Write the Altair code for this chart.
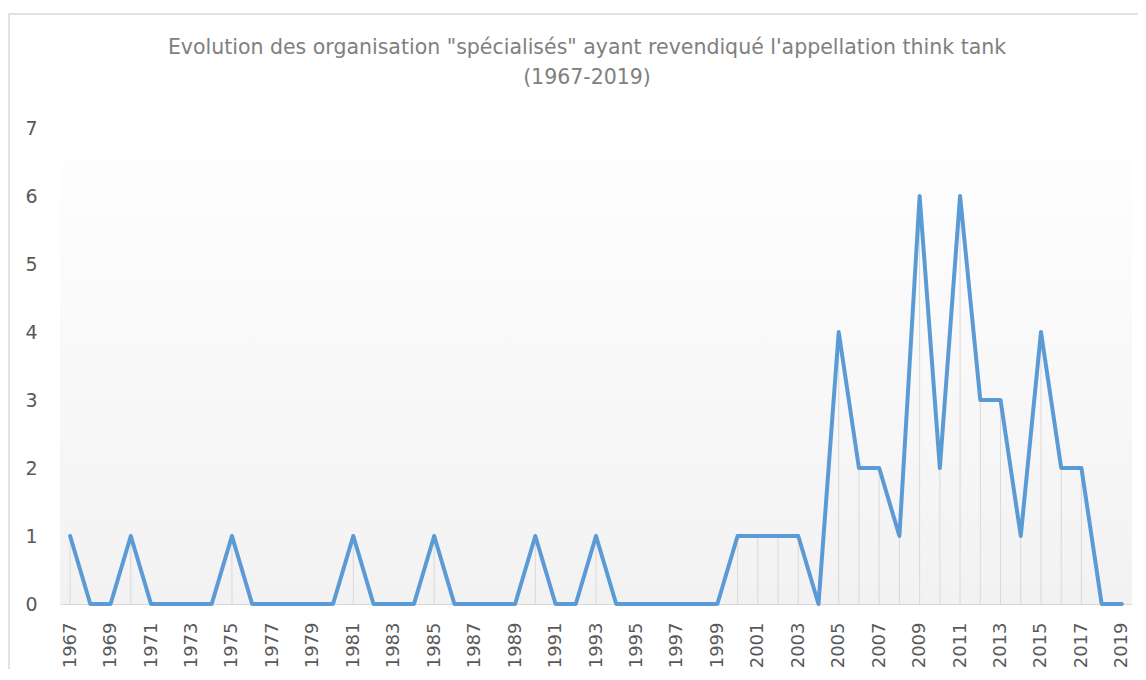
import altair as alt
import pandas as pd

years = [1967, 1968, 1969, 1970, 1971, 1972, 1973, 1974, 1975, 1976,
         1977, 1978, 1979, 1980, 1981, 1982, 1983, 1984, 1985, 1986,
         1987, 1988, 1989, 1990, 1991, 1992, 1993, 1994, 1995, 1996,
         1997, 1998, 1999, 2000, 2001, 2002, 2003, 2004, 2005, 2006,
         2007, 2008, 2009, 2010, 2011, 2012, 2013, 2014, 2015, 2016,
         2017, 2018, 2019]
counts = [1, 0, 0, 1, 0, 0, 0, 0, 1, 0,
          0, 0, 0, 0, 1, 0, 0, 0, 1, 0,
          0, 0, 0, 1, 0, 0, 1, 0, 0, 0,
          0, 0, 0, 1, 1, 1, 1, 0, 4, 2,
          2, 1, 6, 2, 6, 3, 3, 1, 4, 2,
          2, 0, 0]
label_years = [1967, 1969, 1971, 1973, 1975, 1977, 1979, 1981, 1983, 1985,
               1987, 1989, 1991, 1993, 1995, 1997, 1999, 2001, 2003, 2005,
               2007, 2009, 2011, 2013, 2015, 2017, 2019]
y_ticks = [0, 1, 2, 3, 4, 5, 6, 7]
title_lines = ["Evolution des organisation \"spécialisés\" ayant revendiqué l'appellation think tank",
               "(1967-2019)"]

df = pd.DataFrame({"year": years, "count": counts})

W, H = 1072, 476
FONT = "DejaVu Sans"

x_enc = alt.X("year:Q",
              scale=alt.Scale(domain=[1966.5, 2019.5], nice=False, zero=False),
              axis=alt.Axis(values=label_years, format="d", labelAngle=270,
                            grid=False, ticks=False, domainColor="#d9d9d9",
                            domainWidth=1, labelFontSize=18, labelColor="#595959",
                            labelFont=FONT, labelPadding=18, title=None,
                            labelOverlap=False))
y_enc = alt.Y("count:Q",
              scale=alt.Scale(domain=[0, 7], nice=False),
              axis=alt.Axis(values=y_ticks, format="d", grid=False, ticks=False, domain=False,
                            labelFontSize=19, labelColor="#595959", labelFont=FONT,
                            labelPadding=23, title=None))

one = alt.Data(values=[{"k": 1}])

gradient = alt.LinearGradient(
    gradient="linear", x1=0, y1=0, x2=0, y2=1,
    stops=[alt.GradientStop(color="#ffffff", offset=0),
           alt.GradientStop(color="#f2f2f2", offset=1)])

bg = alt.Chart(one).mark_rect(fill=gradient, stroke=None).encode(
    x=alt.value(0), x2=alt.value(W), y=alt.value(-10), y2=alt.value(H))

frame = alt.Chart(one).mark_rect(fill=None, stroke="#d9d9d9", strokeWidth=1.5, clip=False).encode(
    x=alt.value(-51), x2=alt.value(W + 100), y=alt.value(-114), y2=alt.value(H + 200))

drops = alt.Chart(df).mark_rule(color="#d9d9d9", strokeWidth=1).encode(
    x=x_enc, y=alt.Y("zero:Q"), y2="count:Q"
).transform_calculate(zero="0")

line = alt.Chart(df).mark_line(color="#5b9bd5", strokeWidth=4, strokeJoin="round",
                               strokeCap="round").encode(
    x=x_enc, y=y_enc)

chart = alt.layer(bg, frame, drops, line).properties(
    width=W, height=H,
    autosize=alt.AutoSizeParams(type="none"),
    padding={"left": 52, "top": 120, "right": 6, "bottom": 65},
    title=alt.TitleParams(text=title_lines, fontSize=20.5, font=FONT, fontWeight="normal",
                          color="#808080", anchor="middle", lineHeight=30, offset=-75, dx=-9),
).configure_view(stroke=None)

chart.save("out.html", embed_options={"renderer": "svg", "actions": False})
